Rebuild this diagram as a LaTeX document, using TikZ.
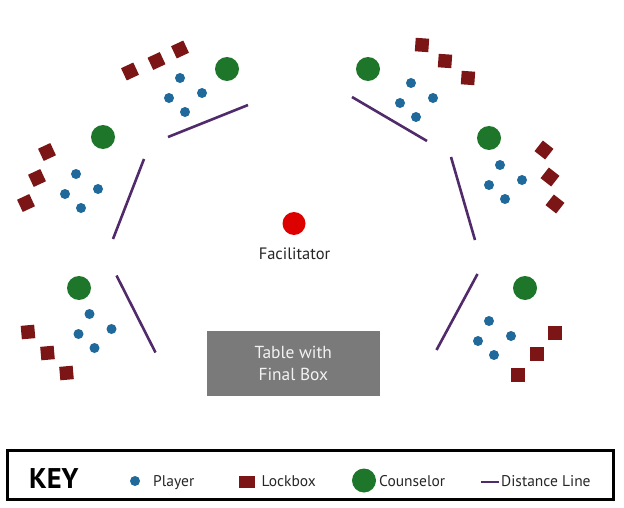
\documentclass[tikz,border=0pt]{standalone}
\usepackage{fontspec}
\setmainfont{PT Sans}
\definecolor{playerc}{RGB}{31,105,155}
\definecolor{lockc}{RGB}{124,22,22}
\definecolor{counc}{RGB}{30,118,42}
\definecolor{linec}{RGB}{80,42,106}
\definecolor{facc}{RGB}{221,0,0}
\definecolor{tablec}{RGB}{122,122,122}
\begin{document}
\begin{tikzpicture}[x=1pt,y=-1pt,
  player/.style={circle,fill=playerc,inner sep=0pt,minimum size=10pt},
  lockbox/.style={rectangle,fill=lockc,inner sep=0pt,minimum size=13.5pt},
  counselor/.style={circle,fill=counc,inner sep=0pt,minimum size=24pt},
  distline/.style={draw=linec,line width=2.6pt},
  lbl/.style={font=\fontsize{15.5}{17}\selectfont,text=black!85,inner sep=0pt,anchor=base west}]
\useasboundingbox (0,0) rectangle (624,508);
% ---------- top-left group
\node[counselor] (c1) at (227,69) {};
\node[player] (p11) at (180,78) {};
\node[player] (p12) at (169,98) {};
\node[player] (p13) at (202,93) {};
\node[player] (p14) at (185,112) {};
\node[lockbox,rotate=25] (l11) at (130,71.5) {};
\node[lockbox,rotate=25] (l12) at (156.5,61) {};
\node[lockbox,rotate=25] (l13) at (180,49.5) {};
\coordinate (d1a) at (168,137); \coordinate (d1b) at (248,105);
\draw[distline] (d1a) -- (d1b);
% ---------- middle-left group
\node[counselor] (c2) at (103,137) {};
\node[player] (p21) at (76,174) {};
\node[player] (p22) at (65,194) {};
\node[player] (p23) at (98,189) {};
\node[player] (p24) at (81,208) {};
\node[lockbox,rotate=25] (l21) at (47,152) {};
\node[lockbox,rotate=25] (l22) at (37,178) {};
\node[lockbox,rotate=25] (l23) at (26,203) {};
\coordinate (d2a) at (144,159); \coordinate (d2b) at (113,239);
\draw[distline] (d2a) -- (d2b);
% ---------- bottom-left group
\node[counselor] (c3) at (79,288) {};
\node[player] (p31) at (89.5,314) {};
\node[player] (p32) at (78.5,334) {};
\node[player] (p33) at (111.5,329) {};
\node[player] (p34) at (94.5,348) {};
\node[lockbox,rotate=5] (l31) at (28,332) {};
\node[lockbox,rotate=5] (l32) at (47.5,353) {};
\node[lockbox,rotate=5] (l33) at (66.5,373) {};
\coordinate (d3a) at (116.5,275.5); \coordinate (d3b) at (155.5,352.5);
\draw[distline] (d3a) -- (d3b);
% ---------- top-right group
\node[counselor] (c4) at (368,69) {};
\node[player] (p41) at (411,83) {};
\node[player] (p42) at (400,103) {};
\node[player] (p43) at (433,98) {};
\node[player] (p44) at (416,117) {};
\node[lockbox,rotate=-4] (l41) at (422,45) {};
\node[lockbox,rotate=-4] (l42) at (445,61) {};
\node[lockbox,rotate=-4] (l43) at (468,78) {};
\coordinate (d4a) at (352,97); \coordinate (d4b) at (427,141);
\draw[distline] (d4a) -- (d4b);
% ---------- middle-right group
\node[counselor] (c5) at (489,138) {};
\node[player] (p51) at (500,165) {};
\node[player] (p52) at (489,185) {};
\node[player] (p53) at (522,180) {};
\node[player] (p54) at (505,199) {};
\node[lockbox,rotate=-38] (l51) at (544,150) {};
\node[lockbox,rotate=-38] (l52) at (550,177) {};
\node[lockbox,rotate=-38] (l53) at (555,204) {};
\coordinate (d5a) at (451,157); \coordinate (d5b) at (475,240);
\draw[distline] (d5a) -- (d5b);
% ---------- bottom-right group
\node[counselor] (c6) at (525,288) {};
\node[player] (p61) at (489,321) {};
\node[player] (p62) at (478,341) {};
\node[player] (p63) at (511,336) {};
\node[player] (p64) at (494,355) {};
\node[lockbox] (l61) at (555,333) {};
\node[lockbox] (l62) at (537,354) {};
\node[lockbox] (l63) at (518,375) {};
\coordinate (d6a) at (477.5,274); \coordinate (d6b) at (436.5,350);
\draw[distline] (d6a) -- (d6b);
% ---------- facilitator and table
\node[circle,fill=facc,inner sep=0pt,minimum size=23pt] (fac) at (294,223.5) {};
\node[font=\fontsize{16.5}{18}\selectfont,text=black!85,inner sep=0pt,anchor=base] (factxt) at (294.5,259.5) {Facilitator};
\node[rectangle,fill=tablec,minimum width=173pt,minimum height=64.5pt,inner sep=0pt,
  text=white!95!black,align=center,font=\fontsize{17.4}{21.7}\selectfont] (table) at (293.3,363.3) {Table with\\Final Box};
% ---------- key
\node[draw=black,line width=2.8pt,rectangle,minimum width=606pt,minimum height=49pt,inner sep=0pt] (keybox) at (310.5,475) {};
\node[font=\bfseries\fontsize{28.5}{30}\selectfont,inner sep=0pt,anchor=base west] (keytxt) at (29,488.5) {KEY};
\node[player] (kp) at (135,481) {};
\node[lbl] (kpt) at (153,486.5) {Player};
\node[lockbox,minimum width=16pt,minimum height=12pt] (kl) at (246.5,482) {};
\node[lbl] (klt) at (261.5,486.5) {Lockbox};
\node[counselor] (kc) at (364,480.5) {};
\node[lbl] (kct) at (379,486.5) {Counselor};
\coordinate (kla) at (481,482); \coordinate (klb) at (498.5,482);
\draw[draw=linec,line width=2pt] (kla) -- (klb);
\node[lbl] (klnt) at (501,486.5) {Distance Line};
\end{tikzpicture}
\end{document}
